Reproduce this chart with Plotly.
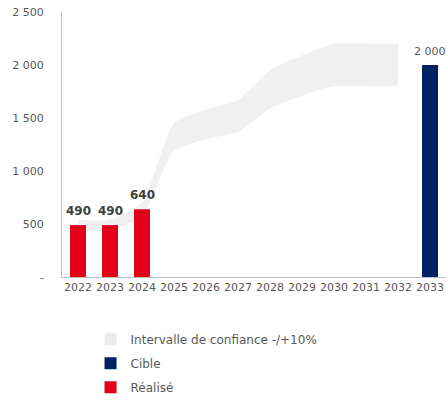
import plotly.graph_objects as go

# Years on the category axis
years = [str(y) for y in range(2022, 2034)]

# Achieved values (Réalisé)
realise_years = ["2022", "2023", "2024"]
realise_values = [490, 490, 640]

# Target (Cible)
cible_years = ["2033"]
cible_values = [2000]

# Confidence band (-/+10%) around the trajectory
band_years = ["2022", "2023", "2024", "2025", "2026", "2027", "2028", "2029", "2030", "2031", "2032"]
band_lower = [440, 440, 580, 1190, 1300, 1370, 1590, 1710, 1800, 1800, 1800]
band_upper = [540, 540, 700, 1450, 1580, 1670, 1950, 2090, 2200, 2200, 2200]

# Y-axis ticks
y_tickvals = [0, 500, 1000, 1500, 2000, 2500]
y_ticktext = ["-", "500", "1 000", "1 500", "2 000", "2 500"]
Y_RANGE = [0, 2500]

RED = "#E2001A"
NAVY = "#002163"
BAND = "#F0F0F0"
TEXT = "#595959"
FONT = "DejaVu Sans"


def fmt(v):
    return f"{v:,}".replace(",", " ")


fig = go.Figure()

# Band on the base axes: lower edge (invisible), then upper edge filled down to it
fig.add_trace(go.Scatter(
    x=band_years, y=band_lower, mode="lines",
    line=dict(width=0, color=BAND, shape="spline", smoothing=0.6),
    showlegend=False, hoverinfo="skip",
))
fig.add_trace(go.Scatter(
    x=band_years, y=band_upper, mode="lines",
    line=dict(width=0, color=BAND, shape="spline", smoothing=0.6),
    fill="tonexty", fillcolor=BAND,
    showlegend=False, hoverinfo="skip",
))

# Legend key for the band (square swatch)
fig.add_trace(go.Bar(
    x=[None], y=[None], name="Intervalle de confiance -/+10%",
    marker=dict(color="#EBEBEB", line=dict(width=0)),
    legendrank=1, legendgroup="a", yaxis="y2",
))

# Bars on an overlaid axis so they sit above the band
fig.add_trace(go.Bar(
    x=cible_years, y=cible_values, name="Cible",
    marker=dict(color=NAVY, line=dict(width=0)), width=0.5,
    legendrank=2, legendgroup="b", yaxis="y2",
))

fig.add_trace(go.Bar(
    x=realise_years, y=realise_values, name="Réalisé",
    marker=dict(color=RED, line=dict(width=0)), width=0.5,
    legendrank=3, legendgroup="c", yaxis="y2",
))

# Value labels above the bars (category index positions on the x axis)
annotations = []
for x, v in zip(realise_years, realise_values):
    annotations.append(dict(
        x=years.index(x), y=v, xref="x", yref="y2", text=f"<b>{fmt(v)}</b>",
        showarrow=False, yanchor="bottom", yshift=5,
        font=dict(family=FONT, size=12, color="#404040"),
    ))
for x, v in zip(cible_years, cible_values):
    annotations.append(dict(
        x=years.index(x), y=v, xref="x", yref="y2", text=fmt(v),
        showarrow=False, yanchor="bottom", yshift=5,
        font=dict(family=FONT, size=11, color=TEXT),
    ))

fig.update_layout(
    width=446, height=401,
    margin=dict(l=62, r=0, t=12, b=124, autoexpand=False),
    paper_bgcolor="white", plot_bgcolor="white",
    barmode="overlay",
    font=dict(family=FONT, size=11, color=TEXT),
    showlegend=True,
    annotations=annotations,
    legend=dict(
        orientation="v", xref="container", yref="container",
        x=0.203, y=0.19, xanchor="left", yanchor="top",
        font=dict(family=FONT, size=12, color=TEXT),
        tracegroupgap=5, itemwidth=30, bgcolor="rgba(0,0,0,0)",
    ),
    xaxis=dict(
        type="category", categoryorder="array", categoryarray=years,
        tickvals=years, ticktext=years, range=[-0.5, 11.5],
        showline=True, linecolor="#BFBFBF", linewidth=1,
        showgrid=False, ticks="", tickangle=0, automargin=False,
        tickfont=dict(family=FONT, size=11, color=TEXT),
        fixedrange=True,
    ),
    yaxis=dict(
        range=Y_RANGE, tickvals=y_tickvals, ticktext=y_ticktext,
        showline=True, linecolor="#BFBFBF", linewidth=1,
        showgrid=False, zeroline=False, ticks="", ticklabelstandoff=15,
        automargin=False,
        tickfont=dict(family=FONT, size=11, color=TEXT),
        fixedrange=True,
    ),
    yaxis2=dict(
        overlaying="y", range=Y_RANGE, visible=False, showgrid=False,
        zeroline=False, fixedrange=True,
    ),
)

fig.write_html("out.html")
